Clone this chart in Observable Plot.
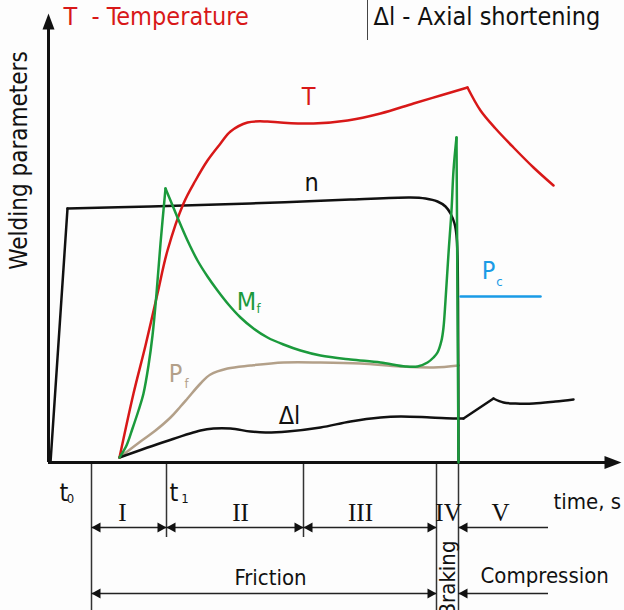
<!DOCTYPE html>
<html><head><meta charset="utf-8">
<script src="https://cdn.jsdelivr.net/npm/d3@7"></script>
<script src="https://cdn.jsdelivr.net/npm/@observablehq/plot@0.6"></script>
<style>
html,body{margin:0;padding:0;background:#fdfdfd;overflow:hidden;}
#chart svg{display:block}
</style>
</head><body><div id="chart"></div>
<script>
// ---------- data: time (arbitrary units from the axis origin) and parameter value (arbitrary units) ----------
const temperatureRise = [[71,5],[85,69],[97,117],[109,169],[119,212],[135,259],[147,282],[159,302],[172,319],[182,331],[199,340],[219,341],[232,340],[265,339],[299,342],[332,349],[365,359],[392,367],[419,375]];
const temperatureFall = [[419,375],[432,352],[447,334],[465,315],[485,295],[505,277]];
const speedRise = [[2,0],[19,254]];
const speedHold = [[19,254],[102,256],[202,259],[302,263],[362,265],[377,264],[389,261],[397,256],[402,249],[406,239],[408,227],[409,207],[409.5,162],[410,0]];
const torqueRise = [[71,5],[78,17],[84,34],[90,52],[95,69],[100,97],[104,127],[108,169],[112,219],[117,274]];
const torqueFall = [[117,274],[122,262],[129,245],[139,222],[149,202],[159,186],[169,172],[180,158],[192,145],[205,134],[219,125],[235,118],[252,112],[272,107],[302,103],[332,100],[357,96],[369,96],[379,100],[385,105],[389,110],[393,122],[395,135],[397,162],[400,209],[403,252],[405,292],[408,325]];
const torqueDrop = [[408,325],[410,0]];
const frictionPressure = [[71,5],[92,21],[107,32],[122,45],[132,56],[139,64],[152,79],[162,88],[179,94],[202,97],[235,100],[272,100],[312,99],[352,96],[385,95],[410,97]];
const shorteningFriction = [[71,5],[117,21],[152,32],[165,34],[182,34],[202,31],[217,30],[239,31],[272,35],[302,41],[332,45],[352,46],[382,45],[407,44],[415,44]];
const shorteningUpset = [[415,44],[445,64]];
const shorteningHold = [[445,64],[455,60],[467,59],[485,59],[507,61],[525,63]];
const compressionPressure = [[412,166],[492,166]];

const curveLabels = ["T", "n", "M", "P", "Δl", "P"];
const curveLabelAt = [[260,366],[263,280],[198,161],[127,89],[241,47],[440,192]];
const curveSubscripts = ["f", "f", "c"];
const curveSubscriptAt = [[210,154],[138,79],[451,181]];

const legendTexts = ["T\u00a0 - Temperature", "Δl - Axial shortening"];
const legendAt = [[15,446],[325,446]];
const axisTitleY = "Welding parameters";
const axisTitleX = "time, s";

const phaseBounds = [43, 118, 255, 388, 410];
const phaseBoundDepth = [-148, -75, -75, -148, -148];
const phaseNames = ["I", "II", "III", "IV", "V"];
const phaseCentres = [74, 192, 312, 400, 452];
const timeMarks = ["t", "t"];
const timeMarkAt = [[15.5,-30],[125.5,-30]];
const timeMarkSubs = ["0", "1"];
const timeMarkSubAt = [[22,-36],[136.5,-36]];
const stageNames = ["Friction", "Braking", "Compression"];
const dimensionEnd = 500;
const phaseRow = -65, stageRow = -131;

// ---------- drawing ----------
const red = "#d81818", green = "#1b9a3c", tan = "#b3a089", blue = "#1a9be6", ink = "#111";
const xy = {x: d => d[0], y: d => d[1]};
const curve = (pts, stroke, c = "catmull-rom", w = 2.5) =>
  Plot.line(pts, {...xy, stroke, strokeWidth: w, curve: c, strokeLinejoin: "round", strokeLinecap: "round"});
const head = (len, half) => ({draw(ctx) { ctx.moveTo(0, 0); ctx.lineTo(-half, len); ctx.lineTo(half, len); ctx.closePath(); }});
const font = "DejaVu Sans Condensed, DejaVu Sans, sans-serif";

const leftTipsRow1 = [phaseBounds[0], phaseBounds[1], phaseBounds[2], phaseBounds[4]];
const rightTipsRow1 = [phaseBounds[1], phaseBounds[2], phaseBounds[3]];
const leftTipsRow2 = [phaseBounds[0], phaseBounds[4]];
const rightTipsRow2 = [phaseBounds[3]];
const tips = (ts, v) => ts.map(t => [t, v]);
const dimHead = head(9, 5);

const chart = Plot.plot({
  width: 624, height: 610, margin: 0,
  x: {domain: [-48, 576], axis: null},
  y: {domain: [-148, 462], axis: null},
  style: {background: "#fdfdfd", overflow: "hidden"},
  marks: [
    // phase boundaries and dimension lines
    Plot.ruleX(phaseBounds.map((t, i) => [t, phaseBoundDepth[i]]), {x: d => d[0], y1: 0, y2: d => d[1], stroke: "#333", strokeWidth: 1.5}),
    Plot.ruleY([[phaseBounds[0], phaseBounds[3], phaseRow], [phaseBounds[4], dimensionEnd, phaseRow],
                [phaseBounds[0], phaseBounds[3], stageRow], [phaseBounds[4], dimensionEnd, stageRow]],
               {x1: d => d[0], x2: d => d[1], y: d => d[2], stroke: "#222", strokeWidth: 1.5}),
    Plot.dot([...tips(leftTipsRow1, phaseRow), ...tips(leftTipsRow2, stageRow)], {...xy, symbol: dimHead, r: 5, rotate: -90, fill: ink, stroke: "none"}),
    Plot.dot([...tips(rightTipsRow1, phaseRow), ...tips(rightTipsRow2, stageRow)], {...xy, symbol: dimHead, r: 5, rotate: 90, fill: ink, stroke: "none"}),

    // axes
    Plot.ruleX([0], {y1: 0, y2: 440, stroke: ink, strokeWidth: 3}),
    Plot.ruleY([0], {x1: 0, x2: 558, stroke: ink, strokeWidth: 3}),
    Plot.dot([[0, 449]], {...xy, symbol: head(16, 6), r: 5, rotate: 0, fill: ink, stroke: "none"}),
    Plot.dot([[573, 0]], {...xy, symbol: head(17, 6.5), r: 5, rotate: 90, fill: ink, stroke: "none"}),

    // curves
    curve(frictionPressure, tan),
    curve(shorteningFriction, ink),
    curve(shorteningUpset, ink, "linear"),
    curve(shorteningHold, ink),
    curve(speedRise, ink, "linear"),
    curve(speedHold, ink),
    curve(temperatureRise, red),
    curve(temperatureFall, red),
    curve(torqueRise, green),
    curve(torqueFall, green),
    curve(torqueDrop, green, "linear"),
    curve(compressionPressure, blue, "linear"),

    // curve labels
    Plot.text(curveLabels.map((s, i) => [...curveLabelAt[i], s]), {...xy, text: d => d[2],
      fill: [red, ink, green, tan, ink, blue], fontSize: 25, fontFamily: font}),
    Plot.text(curveSubscripts.map((s, i) => [...curveSubscriptAt[i], s]), {...xy, text: d => d[2],
      fill: [green, tan, blue], fontSize: 13, fontFamily: font}),

    // legend texts at top
    Plot.text(legendTexts.map((s, i) => [...legendAt[i], s]), {...xy, text: d => d[2], textAnchor: "start",
      fill: [red, ink], fontSize: 25, fontFamily: font}),
    Plot.ruleX([319], {y1: 422, y2: 462, stroke: "#444", strokeWidth: 1}),

    // axis titles
    Plot.text([[-29, 302, axisTitleY]], {...xy, text: d => d[2], rotate: -90, fill: ink, fontSize: 24, fontFamily: font}),
    Plot.text([[505, -39, axisTitleX]], {...xy, text: d => d[2], textAnchor: "start", fill: ink, fontSize: 22, fontFamily: font}),

    // time marks
    Plot.text(timeMarks.map((s, i) => [...timeMarkAt[i], s]), {...xy, text: d => d[2], fill: ink, fontSize: 25, fontFamily: font}),
    Plot.text(timeMarkSubs.map((s, i) => [...timeMarkSubAt[i], s]), {...xy, text: d => d[2], fill: ink, fontSize: 13, fontFamily: font}),

    // phase numerals
    Plot.text(phaseNames.map((s, i) => [phaseCentres[i], -50, s]), {...xy, text: d => d[2], fill: ink, fontSize: 25, fontFamily: "Liberation Serif, serif"}),

    // stages
    Plot.text([[222, -115, stageNames[0]]], {...xy, text: d => d[2], fill: ink, fontSize: 22, fontFamily: font}),
    Plot.text([[399, -116, stageNames[1]]], {...xy, text: d => d[2], rotate: -90, fill: ink, fontSize: 22, fontFamily: font}),
    Plot.text([[432, -113, stageNames[2]]], {...xy, text: d => d[2], textAnchor: "start", fill: ink, fontSize: 22, fontFamily: font})
  ]
});
document.getElementById("chart").append(chart);
</script></body></html>
